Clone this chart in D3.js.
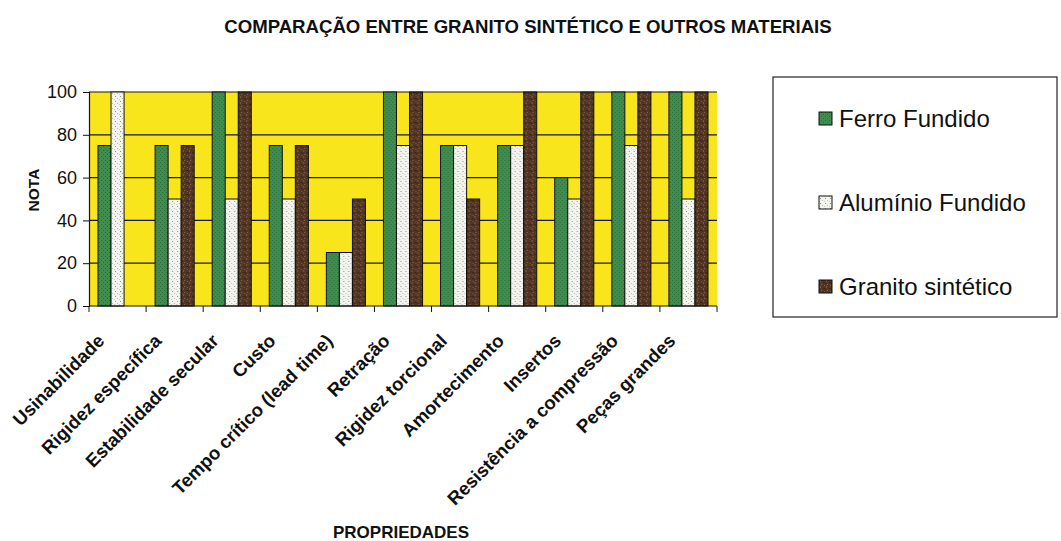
<!DOCTYPE html>
<html>
<head>
<meta charset="utf-8">
<script src="https://cdn.jsdelivr.net/npm/d3@7"></script>
<style>
html,body{margin:0;padding:0;background:#fff;}
svg{display:block;font-family:"Liberation Sans",Arial,sans-serif;}
</style>
</head>
<body>
<svg id="chart" width="1061" height="541"></svg>
<script>
const categories = ["Usinabilidade","Rigidez específica","Estabilidade secular","Custo","Tempo crítico (lead time)","Retração","Rigidez torcional","Amortecimento","Insertos","Resistência a compressão","Peças grandes"];
const seriesNames = ["Ferro Fundido","Alumínio Fundido","Granito sintético"];
const ferroFundido = [75,75,100,75,25,100,75,75,60,100,100];
const aluminioFundido = [100,50,50,50,25,75,75,75,50,75,50];
const granitoSintetico = [0,75,100,75,50,100,50,100,100,100,100];
const yTicks = [0,20,40,60,80,100];
const title = "COMPARAÇÃO ENTRE GRANITO SINTÉTICO E OUTROS MATERIAIS";
const yTitle = "NOTA";
const xTitle = "PROPRIEDADES";

const seriesValues = [ferroFundido, aluminioFundido, granitoSintetico];
const svg = d3.select("#chart");
const defs = svg.append("defs");

function makePattern(id, bg, dot, size, dots) {
  const p = defs.append("pattern").attr("id", id).attr("patternUnits","userSpaceOnUse")
    .attr("width", size).attr("height", size);
  p.append("rect").attr("width", size).attr("height", size).attr("fill", bg);
  dots.forEach(d => p.append("rect").attr("x", d[0]).attr("y", d[1]).attr("width", d[2]||1).attr("height", d[3]||1).attr("fill", d[4]||dot));
}
makePattern("pGreen", "#3f8d4f", "#2d6a3a", 4, [[0,0],[2,2]]);
makePattern("pWhite", "#f4f4ee", "#8f9290", 5, [[1,1],[3,3,1,1,"#b9bcb8"],[0,4,1,1,"#c9cbc7"]]);
makePattern("pBrown", "#523524", "#7d5a3e", 6, [[1,0,1,2],[4,2,2,1,"#3b2519"],[2,4,1,1,"#8a6a4a"],[0,3,1,1,"#3b2519"],[5,5,1,1,"#7d5a3e"]]);
const fills = ["url(#pGreen)","url(#pWhite)","url(#pBrown)"];

const plot = {left: 89, right: 717, top: 92, bottom: 306};

const x = d3.scaleBand().domain(categories).range([plot.left, plot.right]).padding(0);
const xs = d3.scaleBand().domain(d3.range(3)).range([0, x.bandwidth()]).paddingInner(0).paddingOuter(0.69);
const y = d3.scaleLinear().domain([0,100]).range([plot.bottom, plot.top]);

svg.append("rect").attr("x", plot.left).attr("y", plot.top)
  .attr("width", plot.right-plot.left).attr("height", plot.bottom-plot.top)
  .attr("fill", "#f9e51c");

svg.append("g").selectAll("line").data(yTicks.filter(d=>d>0)).join("line")
  .attr("x1", plot.left).attr("x2", plot.right)
  .attr("y1", d=>y(d)).attr("y2", d=>y(d))
  .attr("stroke", "#1a1a10").attr("stroke-width", 1.2);

const groups = svg.append("g").selectAll("g").data(categories).join("g")
  .attr("transform", d=>`translate(${x(d)},0)`);
groups.selectAll("rect").data((d,i)=>seriesValues.map((s,j)=>({j, v:s[i]})).filter(e=>e.v>0)).join("rect")
  .attr("x", d=>xs(d.j)).attr("width", xs.bandwidth())
  .attr("y", d=>y(d.v)).attr("height", d=>y(0)-y(d.v))
  .attr("fill", d=>fills[d.j]).attr("stroke", "#111").attr("stroke-width", 1);

const yAxis = d3.axisLeft(y).tickValues(yTicks).tickSize(6).tickPadding(6);
const gy = svg.append("g").attr("transform", `translate(${plot.left},0)`).call(yAxis);
gy.select(".domain").attr("stroke", "#111").attr("stroke-width", 1.2);
gy.selectAll(".tick line").attr("stroke", "#111");
gy.selectAll(".tick text").attr("font-size", 18).attr("font-family", "Liberation Sans, Arial, sans-serif").attr("fill", "#111");

const gx = svg.append("g");
gx.append("line").attr("x1", plot.left).attr("x2", plot.right).attr("y1", plot.bottom).attr("y2", plot.bottom)
  .attr("stroke", "#111").attr("stroke-width", 1.2);
const boundaries = categories.map(c=>x(c)).concat([x(categories[categories.length-1]) + x.bandwidth()]);
gx.selectAll("line.t").data(boundaries).join("line").attr("class","t")
  .attr("x1", d=>d).attr("x2", d=>d).attr("y1", plot.bottom).attr("y2", plot.bottom+6)
  .attr("stroke", "#111");
gx.selectAll("text").data(categories).join("text")
  .attr("transform", d=>`translate(${x(d)+x.bandwidth()/2-12},${plot.bottom+36}) rotate(-45)`)
  .attr("text-anchor", "end")
  .attr("font-size", 18.5).attr("font-weight", "bold").attr("fill", "#111")
  .text(d=>d);

svg.append("text").attr("x", 528).attr("y", 33).attr("text-anchor", "middle")
  .attr("font-size", 18.6).attr("font-weight", "bold").attr("fill", "#111").text(title);
svg.append("text").attr("transform", "translate(39,190) rotate(-90)").attr("text-anchor", "middle")
  .attr("font-size", 15.5).attr("font-weight", "bold").attr("fill", "#111").text(yTitle);
svg.append("text").attr("x", 401).attr("y", 538).attr("text-anchor", "middle")
  .attr("font-size", 17).attr("font-weight", "bold").attr("fill", "#111").text(xTitle);

svg.append("rect").attr("x", 773).attr("y", 77).attr("width", 284).attr("height", 240)
  .attr("fill", "#fff").attr("stroke", "#222").attr("stroke-width", 1.2);
const lg = svg.append("g").selectAll("g").data(seriesNames).join("g")
  .attr("transform", (d,i)=>`translate(819,${118 + i*84})`);
lg.append("rect").attr("x", 0).attr("y", -6).attr("width", 13).attr("height", 13)
  .attr("fill", (d,i)=>fills[i]).attr("stroke", "#111").attr("stroke-width", 1);
lg.append("text").attr("x", 20).attr("y", 9).attr("font-size", 24).attr("fill", "#111").text(d=>d);
</script>
</body>
</html>
